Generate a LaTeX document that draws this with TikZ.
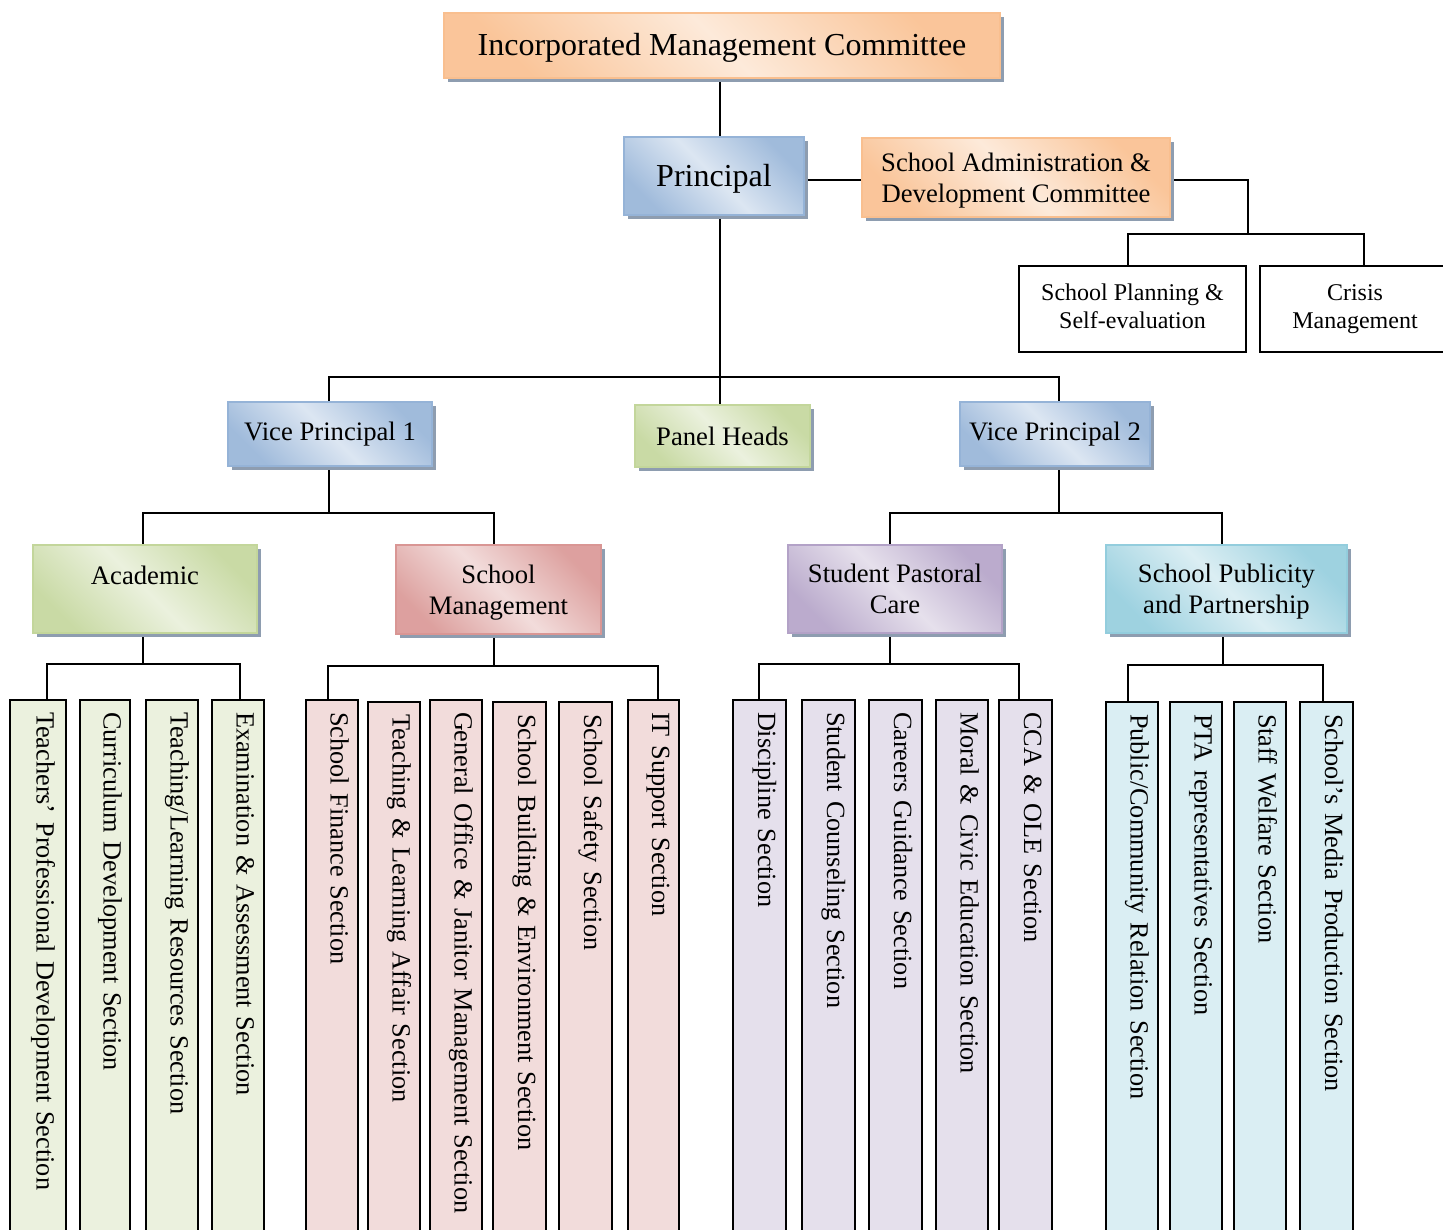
\documentclass[tikz,border=0pt]{standalone}
\usepackage{fontspec}
\setmainfont{Liberation Serif}
\usetikzlibrary{shadows,backgrounds}
\definecolor{orD}{HTML}{F9BF8F}
\definecolor{orL}{HTML}{FDEADA}
\definecolor{blD}{HTML}{95B3D7}
\definecolor{blL}{HTML}{DCE6F2}
\definecolor{grD}{HTML}{C3D69B}
\definecolor{grL}{HTML}{EBF1DE}
\definecolor{rdD}{HTML}{D99694}
\definecolor{rdL}{HTML}{F2DCDB}
\definecolor{puD}{HTML}{B3A2C7}
\definecolor{puL}{HTML}{E6E0EC}
\definecolor{cyD}{HTML}{93CDDD}
\definecolor{cyL}{HTML}{DBEEF3}
\definecolor{shad}{HTML}{8E9DB0}
\definecolor{grV}{HTML}{EBF1DE}
\definecolor{rdV}{HTML}{F2DCDB}
\definecolor{puV}{HTML}{E5E0EC}
\definecolor{cyV}{HTML}{DAEEF3}
\newcommand\lsA{\rule[-4.8pt]{0pt}{23.5pt}}
\newcommand\lsB{\rule[-6.5pt]{0pt}{21pt}}
\tikzset{
  conn/.style={draw=black, line width=1.3pt},
  fancy/.style 2 args={draw=#1, line width=1pt, top color=#1!90!white, bottom color=#1!90!white,
     middle color=#2, shading angle=-45,
     general shadow={fill=shad, shadow xshift=3pt, shadow yshift=-3pt},
     inner sep=0pt, outer sep=0pt, align=center, font=\fontsize{20}{23.5}\selectfont},
  bigtext/.style={font=\fontsize{24}{28}\selectfont, text height=18pt, text depth=2.5pt},
  plainbox/.style={draw=black, fill=white, line width=1.5pt, inner sep=0pt, outer sep=0pt,
     align=center, font=\fontsize{18}{21}\selectfont},
  vsecbox/.style={draw=black, line width=1.5pt, inner sep=0pt, outer sep=0pt,
     align=left, font=\fontsize{19.7}{24}\selectfont, text height=10pt, text depth=8pt},
}
\newcommand\obox[7][]{%
  \pgfmathsetmacro\bcx{(#3+#5)/2}%
  \pgfmathsetmacro\bcy{(#4+#6)/2}%
  \pgfmathsetmacro\bw{(#5-#3)*0.75}%
  \pgfmathsetmacro\bh{(#6-#4)*0.75}%
  \node[#1, minimum width=\bw pt, minimum height=\bh pt] (#2) at (\bcx,\bcy) {#7};}
\newcommand\vsec[6]{%
  \pgfmathsetmacro\bcx{(#2+#3)/2}%
  \pgfmathsetmacro\bcy{(#4+1240)/2}%
  \pgfmathsetmacro\bw{(#3-#2)*0.75}%
  \pgfmathsetmacro\bh{(1240-#4)*0.75}%
  \pgfmathsetmacro\tw{\bh-18}%
  \node[vsecbox, fill=#6, rotate=-90, minimum width=\bh pt, minimum height=\bw pt, text width=\tw pt] (#1) at (\bcx,\bcy) {#5};}
\begin{document}
\begin{tikzpicture}[x=0.75pt,y=-0.75pt]
\useasboundingbox (0,0) rectangle (1443,1229);
\clip (0,0) rectangle (1443,1229);
% top level
\obox[fancy={orD}{orL}, bigtext]{imc}{444}{13}{1000}{78}{Incorporated Management Committee}
\obox[fancy={blD}{blL}, bigtext]{principal}{624}{137}{804}{215}{Principal}
\obox[fancy={orD}{orL}]{sadc}{862}{138}{1170}{217}{School Administration \&\lsA\\Development Committee\lsA}
\obox[plainbox]{spse}{1019}{266}{1246}{352}{School Planning \&\lsB\\Self-evaluation\lsB}
\obox[plainbox]{crisis}{1260}{266}{1450}{352}{Crisis\lsB\\Management\lsB}
% second level
\obox[fancy={blD}{blL}]{vp1}{228}{402}{432}{466}{Vice Principal 1}
\obox[fancy={grD}{grL}]{panel}{635}{405}{810}{467}{Panel Heads}
\obox[fancy={blD}{blL}]{vp2}{960}{402}{1150}{466}{Vice Principal 2}
% third level
\obox[fancy={grD}{grL}]{acad}{33}{545}{257}{633}{Academic\rule[-3.6pt]{0pt}{23.5pt}\\\rule[-3.6pt]{0pt}{23.5pt}}
\obox[fancy={rdD}{rdL}]{smgmt}{396}{545}{601}{634}{School\lsA\\Management\lsA}
\obox[fancy={puD}{puL}]{spc}{788}{545}{1002}{633}{Student Pastoral\lsA\\Care\lsA}
\obox[fancy={cyD}{cyL}]{spp}{1106}{545}{1347}{633}{School Publicity\lsA\\and Partnership\lsA}
% sections
\vsec{a1}{10}{66}{700}{Teachers’ Professional Development Section}{grV}
\vsec{a2}{80}{130}{700}{Curriculum Development Section}{grV}
\vsec{a3}{146}{198}{700}{Teaching/Learning Resources Section}{grV}
\vsec{a4}{212}{264}{700}{Examination \& Assessment Section}{grV}
\vsec{m1}{306}{358}{700}{School Finance Section}{rdV}
\vsec{m2}{368}{420}{702}{Teaching \& Learning Affair Section}{rdV}
\vsec{m3}{430}{482}{700}{General Office \& Janitor Management Section}{rdV}
\vsec{m4}{493}{546}{702}{School Building \& Environment Section}{rdV}
\vsec{m5}{559}{612}{702}{School Safety Section}{rdV}
\vsec{m6}{628}{679}{700}{IT Support Section}{rdV}
\vsec{p1}{733}{786}{700}{Discipline Section}{puV}
\vsec{p2}{802}{855}{700}{Student Counseling Section}{puV}
\vsec{p3}{869}{922}{700}{Careers Guidance Section}{puV}
\vsec{p4}{936}{988}{700}{Moral \& Civic Education Section}{puV}
\vsec{p5}{999}{1052}{700}{CCA \& OLE Section}{puV}
\vsec{c1}{1106}{1158}{702}{Public/Community Relation Section}{cyV}
\vsec{c2}{1170}{1222}{702}{PTA representatives Section}{cyV}
\vsec{c3}{1234}{1286}{702}{Staff Welfare Section}{cyV}
\vsec{c4}{1300}{1353}{702}{School’s Media Production Section}{cyV}
% connectors
\begin{scope}[on background layer]
\fill[white] (0,0) rectangle (1443,1229);
\coordinate (x720) at (720,0);
\coordinate (y180) at (0,180);
\draw[conn] (imc.south -| x720) -- (principal.north -| x720);
\draw[conn] (principal.east |- y180) -- (sadc.west |- y180);
\coordinate (jA) at (1248,234);
\coordinate (xSP) at (1128,0);
\coordinate (xCR) at (1364,0);
\draw[conn] (sadc.east |- y180) -| (jA);
\draw[conn] (spse.north -| xSP) |- (jA) -| (crisis.north -| xCR);
\coordinate (jB) at (720,377);
\coordinate (xV1) at (329,0);
\coordinate (xV2) at (1059,0);
\draw[conn] (principal.south -| jB) -- (jB) -- (panel.north -| jB);
\draw[conn] (vp1.north -| xV1) |- (jB) -| (vp2.north -| xV2);
\coordinate (jC) at (329,513);
\coordinate (xAc) at (143,0);
\coordinate (xSm) at (494,0);
\draw[conn] (vp1.south -| jC) -- (jC);
\draw[conn] (acad.north -| xAc) |- (jC) -| (smgmt.north -| xSm);
\coordinate (jD) at (1059,513);
\coordinate (xSpc) at (890,0);
\coordinate (xSpp) at (1222,0);
\draw[conn] (vp2.south -| jD) -- (jD);
\draw[conn] (spc.north -| xSpc) |- (jD) -| (spp.north -| xSpp);
\coordinate (jE) at (143,664);
\coordinate (xa1) at (47,0);
\coordinate (xa4) at (240,0);
\draw[conn] (acad.south -| jE) -- (jE);
\draw[conn] (a1.west -| xa1) |- (jE) -| (a4.west -| xa4);
\coordinate (jF) at (494,666);
\coordinate (xm1) at (328,0);
\coordinate (xm6) at (658,0);
\draw[conn] (smgmt.south -| jF) -- (jF);
\draw[conn] (m1.west -| xm1) |- (jF) -| (m6.west -| xm6);
\coordinate (jG) at (890,664);
\coordinate (xp1) at (759,0);
\coordinate (xp5) at (1019,0);
\draw[conn] (spc.south -| jG) -- (jG);
\draw[conn] (p1.west -| xp1) |- (jG) -| (p5.west -| xp5);
\coordinate (jH) at (1223,665);
\coordinate (xc1) at (1128,0);
\coordinate (xc4) at (1323,0);
\draw[conn] (spp.south -| jH) -- (jH);
\draw[conn] (c1.west -| xc1) |- (jH) -| (c4.west -| xc4);
\end{scope}
\end{tikzpicture}
\end{document}
